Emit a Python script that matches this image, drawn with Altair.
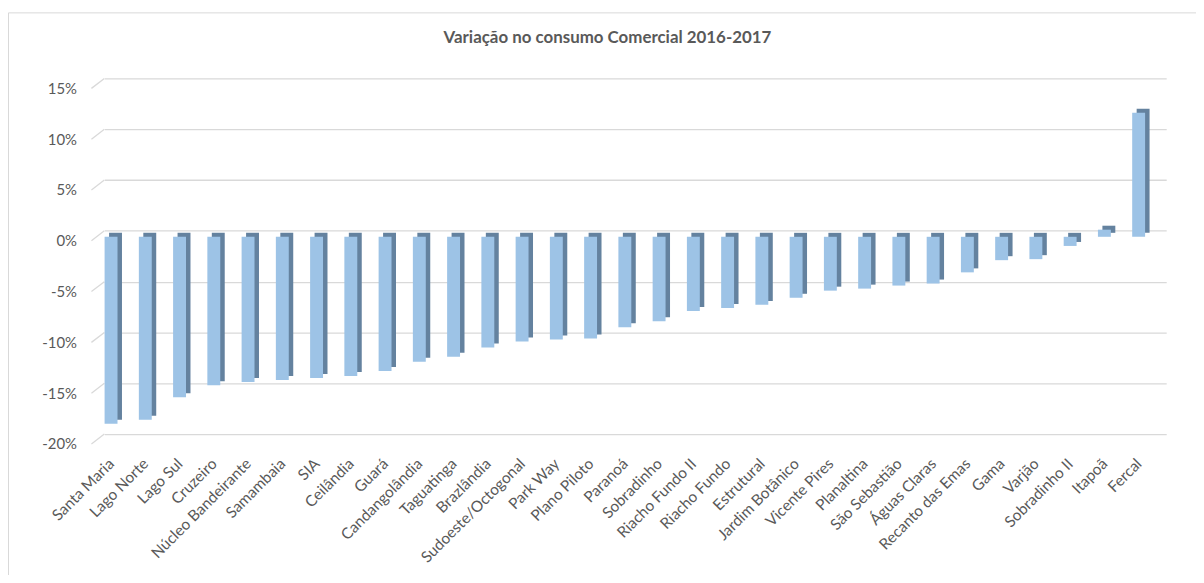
import altair as alt
import pandas as pd

names = ["Santa Maria", "Lago Norte", "Lago Sul", "Cruzeiro", "Núcleo Bandeirante",
         "Samambaia", "SIA", "Ceilândia", "Guará", "Candangolândia", "Taguatinga",
         "Brazlândia", "Sudoeste/Octogonal", "Park Way", "Plano Piloto", "Paranoá",
         "Sobradinho", "Riacho Fundo II", "Riacho Fundo", "Estrutural", "Jardim Botânico",
         "Vicente Pires", "Planaltina", "São Sebastião", "Águas Claras", "Recanto das Emas",
         "Gama", "Varjão", "Sobradinho II", "Itapoã", "Fercal"]
values = [-18.4, -18.0, -15.8, -14.6, -14.3, -14.1, -13.9, -13.7, -13.2, -12.3, -11.8,
          -10.9, -10.3, -10.1, -10.0, -8.9, -8.3, -7.3, -7.0, -6.7, -6.0, -5.3, -5.1,
          -4.8, -4.6, -3.5, -2.3, -2.2, -0.9, 0.7, 12.2]
y_ticks = [-20, -15, -10, -5, 0, 5, 10, 15]
title_text = "Variação no consumo Comercial 2016-2017"

df = pd.DataFrame({"name": names, "value": values})
ticks_df = pd.DataFrame({"t": y_ticks})

FONT = "Lato"
GRAY = "#595959"
GRID = "#D9D9D9"

y_scale = alt.Scale(domain=[-20, 15], nice=False, zero=False)
y_axis = alt.Axis(values=y_ticks, labelExpr="datum.value + '%'",
                  domain=False, ticks=False, grid=True, gridColor=GRID,
                  gridWidth=1.3, labelFont=FONT, labelFontSize=15,
                  labelColor=GRAY, labelPadding=28, labelOffset=10)

x_enc = alt.X("name:N", sort=names, title=None,
              scale=alt.Scale(paddingInner=0, paddingOuter=0),
              axis=alt.Axis(labelAngle=-45, labelAlign="right", labelBaseline="middle",
                            labelPadding=27, labelOffset=-10, domain=False, ticks=False,
                            grid=False, labelFont=FONT, labelFontSize=15.5,
                            labelColor=GRAY, labelOverlap=False, labelLimit=300))
y_enc = alt.Y("value:Q", title=None, scale=y_scale, axis=y_axis)

base = alt.Chart(df)

side = base.mark_bar(color="#64829F", size=13, xOffset=-6, yOffset=2, y2Offset=2).encode(
    x=x_enc, y=y_enc, y2=alt.datum(0))
front = base.mark_bar(color="#9DC3E6", size=13, xOffset=-10.5, yOffset=6, y2Offset=6).encode(
    x=x_enc, y=y_enc, y2=alt.datum(0))

diag = alt.Chart(ticks_df).mark_rule(color=GRID, strokeWidth=1.3, yOffset=10, y2Offset=0).encode(
    y=alt.Y("t:Q", title=None, scale=y_scale, axis=y_axis), y2=alt.Y2("t:Q"),
    x=alt.value(-13), x2=alt.value(0))

border = alt.Chart(pd.DataFrame({"k": [0]})).mark_rule(color=GRID, strokeWidth=1).encode(
    x=alt.value(-96.5), y=alt.value(-66), y2=alt.value(520))
border_top = alt.Chart(pd.DataFrame({"k": [0]})).mark_rule(color=GRID, strokeWidth=1).encode(
    x=alt.value(-96.5), x2=alt.value(1100), y=alt.value(-66))

chart = alt.layer(border, border_top, diag, side, front).properties(
    width=1069, height=358,
    title=alt.TitleParams(title_text, font=FONT, fontSize=17, fontWeight="bold",
                          color=GRAY, anchor="middle", baseline="middle", offset=-43,
                          dx=-28),
    autosize=alt.AutoSizeParams(type="none"),
    padding={"left": 97, "top": 69, "right": 30, "bottom": 140},
).configure(background="white").configure_view(stroke=None)

chart.save("out.html", embed_options={"renderer": "svg", "actions": False})
